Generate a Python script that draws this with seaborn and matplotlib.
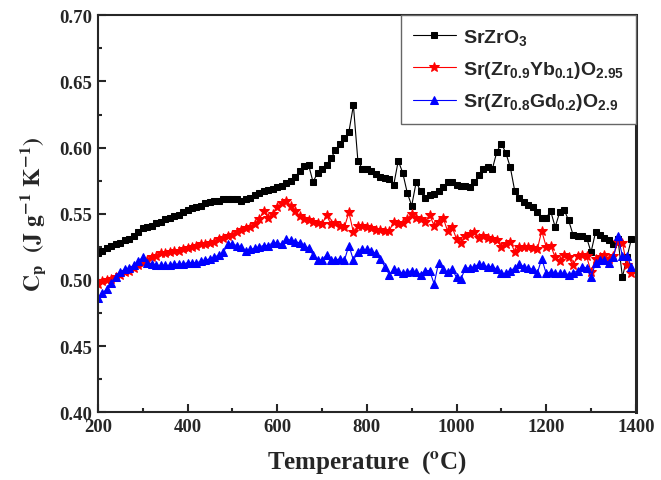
import matplotlib
matplotlib.use("Agg")
import matplotlib.pyplot as plt
from matplotlib.ticker import MultipleLocator, FormatStrFormatter
import seaborn as sns

# temperature grid of the measurement points (degC)
temps = list(range(200, 1400, 10))

cp_srzro3 = [
    0.520, 0.522, 0.524, 0.526, 0.527, 0.528, 0.530, 0.531, 0.533, 0.536,
    0.539, 0.540, 0.541, 0.543, 0.544, 0.546, 0.547, 0.548, 0.549, 0.551,
    0.553, 0.554, 0.555, 0.556, 0.558, 0.559, 0.560, 0.560, 0.561, 0.561,
    0.561, 0.561, 0.560, 0.561, 0.562, 0.564, 0.566, 0.567, 0.568, 0.569,
    0.570, 0.571, 0.573, 0.575, 0.578, 0.582, 0.586, 0.587, 0.574, 0.581,
    0.584, 0.587, 0.592, 0.598, 0.603, 0.607, 0.612, 0.632, 0.590, 0.584,
    0.584, 0.582, 0.580, 0.578, 0.577, 0.576, 0.572, 0.590, 0.581, 0.566,
    0.556, 0.574, 0.567, 0.562, 0.564, 0.565, 0.567, 0.570, 0.574, 0.574,
    0.572, 0.571, 0.571, 0.570, 0.574, 0.579, 0.584, 0.585, 0.584, 0.597,
    0.603, 0.596, 0.585, 0.567, 0.562, 0.559, 0.557, 0.555, 0.551, 0.547,
    0.547, 0.552, 0.540, 0.551, 0.553, 0.545, 0.534, 0.533, 0.533, 0.532,
    0.521, 0.536, 0.534, 0.532, 0.530, 0.527, 0.531, 0.502, 0.517, 0.531,
]

cp_yb = [
    0.497, 0.499, 0.500, 0.501, 0.502, 0.504, 0.506, 0.507, 0.509, 0.511,
    0.513, 0.515, 0.517, 0.518, 0.520, 0.520, 0.521, 0.522, 0.522, 0.523,
    0.524, 0.525, 0.526, 0.527, 0.527, 0.528, 0.529, 0.531, 0.532, 0.533,
    0.534, 0.536, 0.538, 0.539, 0.540, 0.542, 0.546, 0.552, 0.547, 0.550,
    0.555, 0.558, 0.560, 0.556, 0.552, 0.548, 0.546, 0.545, 0.544, 0.543,
    0.542, 0.549, 0.542, 0.543, 0.541, 0.540, 0.551, 0.536, 0.541, 0.541,
    0.540, 0.539, 0.538, 0.538, 0.537, 0.537, 0.544, 0.542, 0.543, 0.546,
    0.550, 0.547, 0.546, 0.544, 0.549, 0.541, 0.544, 0.547, 0.537, 0.540,
    0.531, 0.528, 0.533, 0.535, 0.536, 0.532, 0.533, 0.532, 0.531, 0.530,
    0.525, 0.527, 0.529, 0.521, 0.525, 0.525, 0.525, 0.524, 0.523, 0.537,
    0.525, 0.526, 0.517, 0.514, 0.519, 0.517, 0.511, 0.518, 0.519, 0.518,
    0.506, 0.516, 0.517, 0.519, 0.516, 0.518, 0.529, 0.528, 0.511, 0.505,
]

cp_gd = [
    0.486, 0.490, 0.493, 0.498, 0.502, 0.506, 0.508, 0.509, 0.511, 0.514,
    0.517, 0.513, 0.512, 0.511, 0.511, 0.511, 0.511, 0.512, 0.512, 0.512,
    0.513, 0.513, 0.513, 0.514, 0.515, 0.516, 0.517, 0.519, 0.521, 0.527,
    0.527, 0.526, 0.525, 0.522, 0.523, 0.524, 0.525, 0.526, 0.526, 0.528,
    0.528, 0.527, 0.531, 0.530, 0.529, 0.528, 0.526, 0.524, 0.519, 0.515,
    0.515, 0.519, 0.515, 0.515, 0.516, 0.515, 0.526, 0.515, 0.521, 0.523,
    0.523, 0.522, 0.520, 0.516, 0.510, 0.504, 0.508, 0.507, 0.505, 0.506,
    0.507, 0.506, 0.504, 0.507, 0.507, 0.497, 0.513, 0.508, 0.506, 0.508,
    0.502, 0.501, 0.509, 0.509, 0.510, 0.512, 0.511, 0.510, 0.510, 0.508,
    0.505, 0.505, 0.507, 0.509, 0.512, 0.510, 0.509, 0.508, 0.505, 0.516,
    0.505, 0.506, 0.505, 0.505, 0.505, 0.504, 0.505, 0.507, 0.510, 0.509,
    0.502, 0.513, 0.515, 0.515, 0.513, 0.517, 0.533, 0.518, 0.518, 0.510,
]

labels = [
    r"$\mathbf{SrZrO_3}$",
    r"$\mathbf{Sr(Zr_{0.9}Yb_{0.1})O_{2.95}}$",
    r"$\mathbf{Sr(Zr_{0.8}Gd_{0.2})O_{2.9}}$",
]

sns.set_style("ticks")
plt.rcParams["font.family"] = ["Liberation Serif", "DejaVu Serif"]
plt.rcParams["font.weight"] = "bold"
plt.rcParams["mathtext.fontset"] = "custom"
plt.rcParams["mathtext.rm"] = "Liberation Sans"
plt.rcParams["mathtext.bf"] = "Liberation Sans:bold"

fig = plt.figure(figsize=(6.61, 4.81), dpi=100)
ax = fig.add_axes([0.148, 0.141, 0.814, 0.825])

sns.lineplot(x=temps, y=cp_srzro3, ax=ax, color="black", marker="s",
             markersize=4.8, markeredgecolor="black", lw=0.8, label=labels[0])
sns.lineplot(x=temps, y=cp_yb, ax=ax, color="red", marker="*",
             markersize=7, markeredgecolor="red", lw=0.8, label=labels[1])
sns.lineplot(x=temps, y=cp_gd, ax=ax, color="blue", marker="^",
             markersize=5.8, markeredgecolor="blue", lw=0.8, label=labels[2])

ax.set_xlim(200, 1400)
ax.set_ylim(0.40, 0.70)
ax.xaxis.set_major_locator(MultipleLocator(200))
ax.xaxis.set_minor_locator(MultipleLocator(100))
ax.yaxis.set_major_locator(MultipleLocator(0.05))
ax.yaxis.set_minor_locator(MultipleLocator(0.025))
ax.yaxis.set_major_formatter(FormatStrFormatter("%.2f"))
ax.tick_params(which="both", direction="in", width=1.5, top=False, right=False)
ax.tick_params(which="major", length=6, labelsize=13.5)
ax.tick_params(axis="x", which="major", pad=4)
ax.tick_params(axis="y", which="major", pad=4)
ax.tick_params(which="minor", length=3)
for lab in ax.get_xticklabels() + ax.get_yticklabels():
    lab.set_fontweight("bold")
for side in ["left", "bottom", "top"]:
    ax.spines[side].set_linewidth(1.5)
ax.spines["right"].set_linewidth(2.2)

ax.set_xlabel(r"Temperature  ($\mathbf{^{o}}$C)", fontsize=18, fontweight="bold",
              labelpad=10, math_fontfamily="stix")
ax.set_ylabel(r"$\mathbf{C_p\ \ (J\ g^{-1}\ K^{-1})}$", fontsize=17,
              labelpad=8, math_fontfamily="stix")

leg = ax.legend(loc="upper right", borderaxespad=0, fancybox=False,
                framealpha=1, edgecolor="#666666", fontsize=14,
                handlelength=2.2, handletextpad=0.4, labelspacing=0.6,
                borderpad=0.6)
leg.get_frame().set_linewidth(1.0)

fig.savefig("out.png", dpi=100)
plt.close(fig)
